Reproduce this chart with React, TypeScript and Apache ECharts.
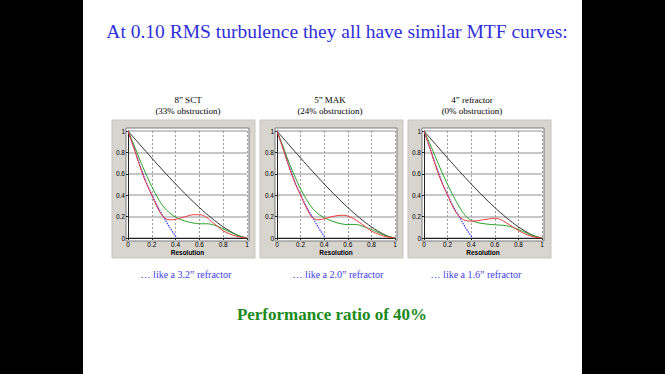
import React, { useEffect, useRef } from "react";
import * as echarts from "echarts";

const resolution = [0, 0.05, 0.1, 0.15, 0.2, 0.25, 0.3, 0.35, 0.4, 0.45, 0.5, 0.55, 0.6, 0.65, 0.7, 0.75, 0.8, 0.85, 0.9, 0.95, 1];
const blueResolution = [0, 0.05, 0.1, 0.15, 0.2, 0.25, 0.3, 0.35, 0.41];

const perfect = [1, 0.936, 0.873, 0.81, 0.747, 0.685, 0.624, 0.564, 0.505, 0.447, 0.391, 0.337, 0.285, 0.235, 0.188, 0.144, 0.104, 0.069, 0.037, 0.013, 0];
const seeing = [1, 0.84, 0.68, 0.53, 0.405, 0.29, 0.195, 0.1, 0];

const red1 = [1, 0.84, 0.67, 0.52, 0.4, 0.28, 0.195, 0.17, 0.175, 0.19, 0.205, 0.218, 0.218, 0.2, 0.155, 0.112, 0.068, 0.04, 0.02, 0.007, 0];
const green1 = [1, 0.87, 0.73, 0.6, 0.48, 0.375, 0.29, 0.235, 0.195, 0.17, 0.152, 0.14, 0.133, 0.133, 0.128, 0.11, 0.085, 0.06, 0.035, 0.014, 0];
const red2 = [1, 0.84, 0.67, 0.52, 0.4, 0.28, 0.19, 0.17, 0.18, 0.195, 0.207, 0.213, 0.205, 0.18, 0.145, 0.105, 0.065, 0.04, 0.02, 0.007, 0];
const green2 = [1, 0.86, 0.71, 0.58, 0.46, 0.36, 0.28, 0.225, 0.19, 0.165, 0.145, 0.132, 0.125, 0.127, 0.12, 0.1, 0.08, 0.055, 0.032, 0.012, 0];
const red3 = [1, 0.84, 0.67, 0.52, 0.4, 0.28, 0.2, 0.165, 0.158, 0.162, 0.17, 0.178, 0.185, 0.172, 0.14, 0.105, 0.07, 0.042, 0.02, 0.007, 0];
const green3 = [1, 0.88, 0.75, 0.62, 0.5, 0.39, 0.29, 0.21, 0.165, 0.145, 0.135, 0.128, 0.124, 0.12, 0.115, 0.1, 0.08, 0.056, 0.032, 0.012, 0];

const panelTitles = ["8\u201D SCT", "5\u201D MAK", "4\u201D refractor"];
const panelSubtitles = ["(33% obstruction)", "(24% obstruction)", "(0% obstruction)"];
const captions = ["\u2026 like a 3.2\u201D refractor", "\u2026 like a 2.0\u201D refractor", "\u2026 like a 1.6\u201D refractor"];
const reds = [red1, red2, red3];
const greens = [green1, green2, green3];

const mainTitle = "At 0.10 RMS turbulence they all have similar MTF curves:";
const footer = "Performance ratio of 40%";

const gridLefts = [128, 277, 424];
const gridWidths = [119, 118, 118];
const panelLefts = [112, 260, 408];
const captionCenters = [186, 338, 476];
const titleCenters = [188, 330, 472];

const serif = "'Liberation Serif', 'Times New Roman', serif";
const sans = "'Liberation Sans', Arial, sans-serif";

export default function App() {
  const ref = useRef<HTMLDivElement>(null);
  useEffect(() => {
    if (!ref.current) return;
    const chart = echarts.init(ref.current, undefined, { renderer: "svg" });
    const zip = (xs: number[], ys: number[]) => xs.map((x, i) => [x, ys[i]]);

    const grids = gridLefts.map((l, i) => ({ left: l, top: 131, width: gridWidths[i], height: 107 }));
    const xAxes = grids.map((_, i) => ({
      type: "value",
      gridIndex: i,
      min: 0,
      max: 1,
      interval: 0.2,
      name: "Resolution",
      nameLocation: "middle",
      nameGap: 10,
      nameTextStyle: { fontFamily: sans, fontSize: 6.5, fontWeight: "bold", color: "#000" },
      axisLine: { lineStyle: { color: "#222", width: 1 } },
      axisTick: { show: true, length: 2, lineStyle: { color: "#222" } },
      axisLabel: { fontFamily: sans, fontSize: 6.5, color: "#000", margin: 3 },
      splitLine: { show: true, lineStyle: { color: "#9a9a9a", type: [2, 2], width: 1 } },
    }));
    const yAxes = grids.map((_, i) => ({
      type: "value",
      gridIndex: i,
      min: 0,
      max: 1,
      interval: 0.2,
      axisLine: { show: true, lineStyle: { color: "#222", width: 1 } },
      axisTick: { show: true, length: 2, lineStyle: { color: "#222" } },
      axisLabel: { fontFamily: sans, fontSize: 6.5, color: "#000", margin: 3 },
      splitLine: { show: true, lineStyle: { color: "#b4b4b4", width: 1.6 } },
    }));

    const series: any[] = [];
    for (let i = 0; i < 3; i++) {
      series.push({
        type: "line", xAxisIndex: i, yAxisIndex: i, data: zip(resolution, perfect),
        showSymbol: false, symbol: "none", smooth: 0.3, lineStyle: { color: "#303030", width: 1 }, z: 3,
      });
      series.push({
        type: "line", xAxisIndex: i, yAxisIndex: i, data: zip(blueResolution, seeing),
        showSymbol: false, symbol: "none", smooth: 0.3, lineStyle: { color: "#3030ff", width: 1.2, type: [1.5, 1] }, z: 3,
      });
      series.push({
        type: "line", xAxisIndex: i, yAxisIndex: i, data: zip(resolution, greens[i]),
        showSymbol: false, symbol: "none", smooth: 0.4, lineStyle: { color: "#28a028", width: 1 }, z: 4,
      });
      series.push({
        type: "line", xAxisIndex: i, yAxisIndex: i, data: zip(resolution, reds[i]),
        showSymbol: false, symbol: "none", smooth: 0.4, lineStyle: { color: "#f03a3a", width: 1 }, z: 5,
      });
    }

    const graphics: any[] = [
      { type: "rect", z: -30, shape: { x: 83, y: 0, width: 499, height: 374 }, style: { fill: "#ffffff" } },
    ];
    for (let i = 0; i < 3; i++) {
      graphics.push({
        type: "rect", z: -20,
        shape: { x: panelLefts[i], y: 120, width: 143, height: 138 },
        style: { fill: "#d8d5cf", stroke: "#c8c5be", lineWidth: 1 },
      });
      graphics.push({
        type: "rect", z: -10,
        shape: { x: gridLefts[i] - 2, y: 128, width: gridWidths[i] + 4, height: 113 },
        style: { fill: "#ffffff", stroke: "#7a7a7a", lineWidth: 1 },
      });
      graphics.push({
        type: "text", z: 10, x: titleCenters[i], y: 100,
        style: { text: panelTitles[i], fontFamily: serif, fontSize: 9, fill: "#000", textAlign: "center", textVerticalAlign: "middle" },
      });
      graphics.push({
        type: "text", z: 10, x: titleCenters[i], y: 111,
        style: { text: panelSubtitles[i], fontFamily: serif, fontSize: 9, fill: "#000", textAlign: "center", textVerticalAlign: "middle" },
      });
      graphics.push({
        type: "text", z: 10, x: captionCenters[i], y: 274,
        style: { text: captions[i], fontFamily: serif, fontSize: 10, fill: "#3c3ce0", textAlign: "center", textVerticalAlign: "middle" },
      });
    }
    graphics.push({
      type: "text", z: 10, x: 337, y: 31,
      style: { text: mainTitle, fontFamily: serif, fontSize: 19.5, fill: "#2f2fd8", textAlign: "center", textVerticalAlign: "middle" },
    });
    graphics.push({
      type: "text", z: 10, x: 332, y: 314,
      style: { text: footer, fontFamily: serif, fontSize: 17, fontWeight: "bold", fill: "#1a8a1a", textAlign: "center", textVerticalAlign: "middle" },
    });

    chart.setOption({
      animation: false,
      backgroundColor: "#000000",
      grid: grids,
      xAxis: xAxes,
      yAxis: yAxes,
      series,
      graphic: graphics,
    });
    return () => chart.dispose();
  }, []);
  return <div ref={ref} style={{ position: "absolute", left: 0, top: 0, width: 665, height: 374 }} />;
}
